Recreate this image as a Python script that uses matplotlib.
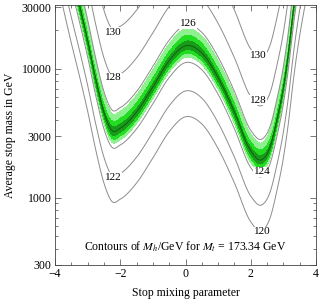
import numpy as np
import matplotlib
matplotlib.use('Agg')
import matplotlib.pyplot as plt
from matplotlib.ticker import FixedLocator, LogLocator, NullFormatter, MultipleLocator

matplotlib.rc('font', family='Liberation Serif', size=8.5)
matplotlib.rc('mathtext', fontset='stix')

# centre of the green band (M_h = 125.09 GeV)
mix_pts = np.array([-4.0, -3.5, -3.25, -3.0, -2.75, -2.5, -2.25, -2.0, -1.5, -1.0,
                    -0.5, 0.0, 0.5, 1.0, 1.5, 2.0, 2.35, 2.6, 2.8, 3.0, 3.15, 3.3, 4.0])
center_mass = np.array([200000, 56000, 31000, 16600, 8300, 4600, 3300, 3450, 4600, 7200,
                        11500, 15000, 13200, 8500, 4600, 2300, 1970, 2500, 4000, 7200,
                        13200, 28000, 316000])

# how far (in decades of stop mass) each Higgs-mass level sits from the band centre
mh_levels = np.array([112, 120, 122, 124, 125.09, 126, 128, 130, 138])
mh_offset = np.array([-1.4, -0.55, -0.35, -0.13, 0.0, 0.16, 0.42, 0.79, 2.2])

line_levels = [120, 122, 124, 126, 128, 130]
band_levels = [124.34, 124.59, 124.84, 125.34, 125.59, 125.84]
band_colors = ['#8ff08f', '#22dd22', '#1a9a1a', '#22dd22', '#8ff08f']

label_text = ['126', '130', '128', '122', '130', '128', '124', '120']
label_x = [0.08, -2.22, -2.22, -2.22, 2.23, 2.23, 2.35, 2.35]
label_m = [22300, 19200, 8450, 1440, 12700, 5700, 1580, 541]


def smooth(xs, xp, fp):
    m = np.gradient(fp, xp)
    i = np.clip(np.searchsorted(xp, xs) - 1, 0, len(xp) - 2)
    h = xp[i + 1] - xp[i]
    t = (xs - xp[i]) / h
    return ((2*t**3 - 3*t**2 + 1) * fp[i] + (t**3 - 2*t**2 + t) * h * m[i]
            + (-2*t**3 + 3*t**2) * fp[i + 1] + (t**3 - t**2) * h * m[i + 1])


xg = np.linspace(-4, 4, 600)
lg = np.linspace(2.3, 4.7, 600)
X, L = np.meshgrid(xg, lg)
S = smooth(X, mix_pts, np.log10(center_mass))
Z = np.interp(L - S, mh_offset, mh_levels)
M = 10**L

fig = plt.figure(figsize=(3.24, 3.02), dpi=100)
ax = fig.add_axes([55/324, 1 - 265/302, 261/324, 260/302])
ax.set_yscale('log')

ax.contourf(X, M, Z, levels=band_levels, colors=band_colors)
ax.contour(X, M, Z, levels=[125.09], colors='#0a5a0a', linewidths=0.6)
ax.contour(X, M, Z, levels=line_levels, colors='#8c8c8c', linewidths=0.7)

for txt, lx, lm in zip(label_text, label_x, label_m):
    ax.text(lx, lm, txt, ha='center', va='center', fontsize=8,
            bbox=dict(facecolor='white', edgecolor='none', pad=0.4))

ax.set_xlim(-4, 4)
ax.set_ylim(300, 31100)
ax.xaxis.set_major_locator(MultipleLocator(2))
ax.xaxis.set_minor_locator(MultipleLocator(0.5))
ax.yaxis.set_major_locator(FixedLocator([300, 1000, 3000, 10000, 30000]))
ax.yaxis.set_major_formatter(matplotlib.ticker.FuncFormatter(lambda v, p: '%d' % v))
ax.yaxis.set_minor_locator(LogLocator(base=10, subs=np.arange(2, 10)))
ax.yaxis.set_minor_formatter(NullFormatter())
ax.xaxis.set_major_formatter(matplotlib.ticker.FuncFormatter(
    lambda v, p: '%d' % v if v >= 0 else '\u2212%d' % -v))
ax.tick_params(which='both', direction='in', top=True, right=True, width=0.5,
               color='#444444', pad=2.5)
ax.tick_params(which='major', length=4)
ax.tick_params(which='minor', length=2)
for sp in ax.spines.values():
    sp.set_linewidth(0.6)
    sp.set_color('#444444')

ax.text(0.5, 0.07, r'Contours of $M_h$/GeV for $M_t$ = 173.34 GeV',
        transform=ax.transAxes, ha='center', va='center', fontsize=8.5)
ax.set_xlabel('Stop mixing parameter', labelpad=5)
ax.set_ylabel('Average stop mass in GeV', labelpad=4)

plt.savefig('out.png', dpi=100)
